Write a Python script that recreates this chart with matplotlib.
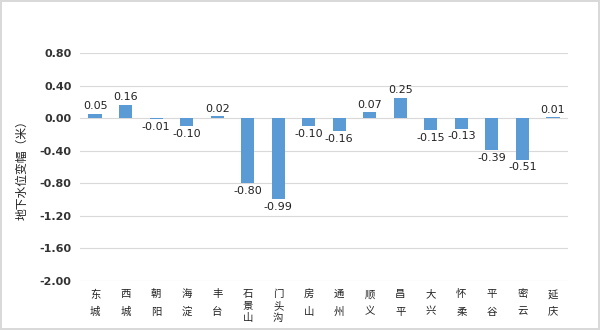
import numpy as np
import matplotlib.pyplot as plt

plt.rcParams['font.family'] = ['Noto Sans CJK SC', 'DejaVu Sans']

districts = ['东城', '西城', '朝阳', '海淀', '丰台', '石景山', '门头沟', '房山',
             '通州', '顺义', '昌平', '大兴', '怀柔', '平谷', '密云', '延庆']
changes = [0.05, 0.16, -0.01, -0.10, 0.02, -0.80, -0.99, -0.10,
           -0.16, 0.07, 0.25, -0.15, -0.13, -0.39, -0.51, 0.01]
yticks = [0.80, 0.40, 0.00, -0.40, -0.80, -1.20, -1.60, -2.00]

fig = plt.figure(figsize=(6, 3.3), dpi=100, edgecolor='#d9d9d9', linewidth=1.5)
ax = fig.add_axes([0.133, 0.1485, 0.814, 0.691])

x = np.arange(len(districts))
bars = ax.bar(x, changes, width=0.43, color='#5B9BD5', zorder=3)
ax.bar_label(bars, labels=[f'{v:.2f}' for v in changes], padding=2,
             fontsize=8, family='DejaVu Sans', color='#222222')

ax.set_ylim(-2.0, 0.8)
ax.set_xlim(-0.5, len(districts) - 0.5)
ax.set_yticks(yticks)
ax.set_yticklabels([f'{v:.2f}' for v in yticks], fontsize=8, fontweight='bold',
                   family='DejaVu Sans', color='#333333')
ax.grid(axis='y', color='#d9d9d9', linewidth=0.8, zorder=0)
ax.set_xticks(x)
ax.set_xticklabels(['\n'.join(d) for d in districts], fontsize=7.5, color='#222222')
for lab in ax.get_xticklabels():
    if len(lab.get_text()) > 3:
        lab.set_linespacing(1.25)
    else:
        lab.set_linespacing(1.9)
ax.tick_params(length=0, pad=6)
for s in ax.spines.values():
    s.set_visible(False)

ax.set_ylabel('地下水位变幅（米）', fontsize=8.5, labelpad=8, color='#222222')

fig.savefig('out.png')
